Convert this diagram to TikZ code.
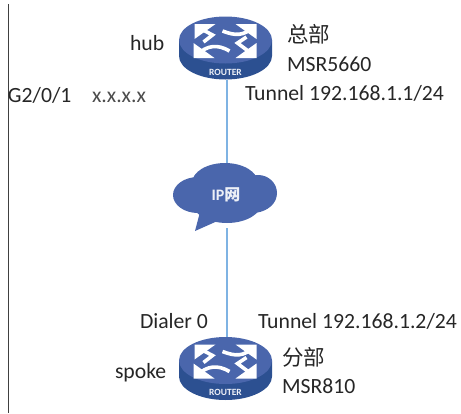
\documentclass[tikz,border=0pt]{standalone}
\usepackage{fontspec}
\setmainfont{Carlito}
\newfontfamily\cjkfont{Noto Sans CJK SC}
\definecolor{rtop}{HTML}{4A66AC}
\definecolor{rside}{HTML}{2C5091}
\definecolor{linkblue}{HTML}{7FB3E3}
\definecolor{txt}{HTML}{262626}
\tikzset{
  x=1pt,y=-1pt,
  lbl/.style={inner sep=0pt,outer sep=0pt,anchor=base west,text=txt,font=\fontsize{21.7}{24}\selectfont},
  cjklbl/.style={lbl,font=\fontsize{21.5}{24}\selectfont\cjkfont},
  routerbox/.style={inner sep=0pt,outer sep=0pt,minimum width=93pt,minimum height=63pt},
  cloudbox/.style={inner sep=0pt,outer sep=0pt,minimum width=104pt,minimum height=60pt},
  link/.style={draw=linkblue,line width=1.2pt},
  arrowline/.style={draw=white,line width=3.6pt},
  routerpic/.pic={
    \fill[rside] (-46.5,-8) -- (-46.5,8) arc[start angle=180,end angle=0,x radius=46.5,y radius=23.5] -- (46.5,-8) -- cycle;
    \fill[rtop] (0,-8) ellipse[x radius=46.5,y radius=23.5];
    \fill[white] (-31,-24) -- (-10,-24) -- (-31,-9) -- cycle;
    \fill[white] (31,-24) -- (10,-24) -- (31,-9) -- cycle;
    \fill[white] (-32,10) -- (-11,10) -- (-32,-5) -- cycle;
    \fill[white] (31,10) -- (10,10) -- (31,-5) -- cycle;
    \draw[arrowline] (-28,-21) -- (-13,-13) -- (-22,-6);
    \draw[arrowline] (28,-21) .. controls (18,-12) and (10,-12) .. (-3,-17);
    \draw[arrowline] (-29,7) .. controls (-18,-3) and (-8,-4) .. (4,3);
    \draw[arrowline] (28,7) -- (12,-5) -- (21,-11);
    \node[inner sep=0pt,text=white!90!rtop,font=\fontsize{9.5}{10}\selectfont\bfseries] at (0,24) {ROUTER};
  }
}
\begin{document}
\begin{tikzpicture}
\useasboundingbox (0,0) rectangle (461,413);
\node[routerbox] (hub) at (225.5,48) {};
\node[routerbox] (spoke) at (225.5,368.5) {};
\node[cloudbox] (cloud) at (225,193) {};
\coordinate (gap) at ([yshift=-5pt]cloud.south);
% vertical rule at the left
\coordinate (ruletop) at (8.5,4);
\coordinate (rulebot) at (8.5,413);
\draw[draw=black!75,line width=1pt] (ruletop) -- (rulebot);
% connectors
\draw[link] ([xshift=1.5pt]hub.south) -- ([xshift=2pt]cloud.north);
\draw[link] ([xshift=2pt]gap) -- ([xshift=1.5pt]spoke.north);
% routers
\pic at (hub.center) {routerpic};
\pic at (spoke.center) {routerpic};
% cloud
\fill[rtop] (198,195) ellipse[x radius=25,y radius=18];
\fill[rtop] (225,183) ellipse[x radius=33,y radius=20];
\fill[rtop] (258,193) ellipse[x radius=19,y radius=18];
\fill[rtop] (227,202) ellipse[x radius=35,y radius=21];
\fill[rtop] (252,198) ellipse[x radius=22,y radius=15];
\fill[rtop] (200,212) -- (195,231) -- (222,219) -- cycle;
\node[inner sep=0pt,text=white!90!rtop,font=\fontsize{16}{18}\selectfont\bfseries] (iplabel) at (226,195) {IP\cjkfont 网};
% labels
\node[lbl] (lhub) at (130,50) {hub};
\node[cjklbl] (lhq) at (287,42) {总部};
\node[lbl] (lmsr1) at (287,71) {MSR5660};
\node[lbl] (ltun1) at (245,100.5) {Tunnel 192.168.1.1/24};
\node[lbl] (lg) at (8,102) {G2/0/1};
\node[lbl,text=black!70] (lx) at (92,102) {x.x.x.x};
\node[lbl] (ldial) at (140,328) {Dialer 0};
\node[lbl] (ltun2) at (258,328) {Tunnel 192.168.1.2/24};
\node[lbl] (lspoke) at (115,378) {spoke};
\node[cjklbl] (lbr) at (282,365) {分部};
\node[lbl] (lmsr2) at (282,393) {MSR810};
\end{tikzpicture}
\end{document}
